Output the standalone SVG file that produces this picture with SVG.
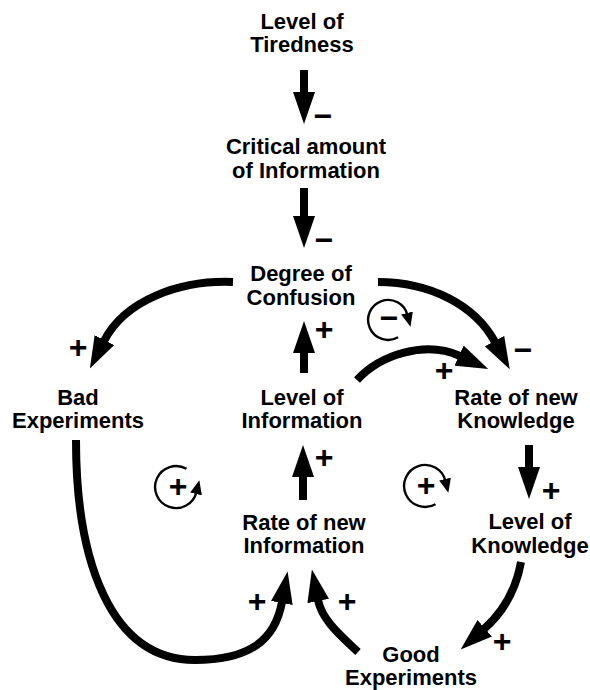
<svg xmlns="http://www.w3.org/2000/svg" width="590" height="690" viewBox="0 0 590 690">
<defs>
<style>
.node text{font-family:"Liberation Sans",Arial,sans-serif;font-weight:bold;font-size:22px;fill:#000;text-anchor:middle}
.conn{fill:none;stroke:#000;stroke-width:8;marker-end:url(#head)}
.sign{font-family:"Liberation Sans",Arial,sans-serif;font-weight:bold;font-size:32px;fill:#000;text-anchor:middle;dominant-baseline:central}
.loop{fill:none;stroke:#000;stroke-width:2.4;marker-end:url(#lhead)}
</style>
<marker id="head" markerUnits="userSpaceOnUse" viewBox="0 0 32 22" markerWidth="32" markerHeight="22" refX="1" refY="11" orient="auto">
<path d="M0,0 L32,11 L0,22 Z" fill="#000"/>
</marker>
<marker id="lhead" markerUnits="userSpaceOnUse" viewBox="0 0 14 12" markerWidth="14" markerHeight="12" refX="2" refY="6" orient="auto">
<path d="M0,0 L14,6 L0,12 Z" fill="#000"/>
</marker>
</defs>
<rect width="590" height="690" fill="#fff"/>

<g id="connectors">
<path class="conn" d="M304,70 V93"/>
<path class="conn" d="M304,188 V217"/>
<path class="conn" d="M233,282 C180,280 125,300 104,341"/>
<path class="conn" d="M378,282 C430,282 475,305 495,342"/>
<path class="conn" d="M304,373 V352"/>
<path class="conn" d="M357,380 C380,355 425,340 460,356"/>
<path class="conn" d="M303,500 V476"/>
<path class="conn" d="M529,445 V468"/>
<path class="conn" d="M521,562 C515,595 500,615 484,629"/>
<path class="conn" d="M358,652 C340,635 322,620 318,600"/>
<path class="conn" d="M76,440 C76,560 110,660 195,660 C250,660 275,640 282,602"/>
<text class="sign" x="323" y="116">−</text>
<text class="sign" x="324" y="240">−</text>
<text class="sign" x="78" y="347">+</text>
<text class="sign" x="523" y="350">−</text>
<text class="sign" x="324" y="329">+</text>
<text class="sign" x="444" y="370">+</text>
<text class="sign" x="324" y="457">+</text>
<text class="sign" x="551" y="490">+</text>
<text class="sign" x="502" y="641">+</text>
<text class="sign" x="347" y="601">+</text>
<text class="sign" x="257" y="601">+</text>
</g>

<g id="loops">
<g id="loop-balancing">
<path class="loop" d="M398,337.3 A20,20 0 1,1 407.5,315"/>
<text class="sign" x="389" y="318">−</text>
</g>
<g id="loop-reinforcing-left">
<path class="loop" d="M186.5,468.8 A21,21 0 1,0 196.5,492"/>
<text class="sign" x="178" y="486">+</text>
</g>
<g id="loop-reinforcing-right">
<path class="loop" d="M435.5,504.2 A21,21 0 1,1 445.5,481"/>
<text class="sign" x="426" y="485">+</text>
</g>
</g>

<g id="level-of-tiredness" class="node">
<text x="302" y="29">Level of<tspan x="302" y="52">Tiredness</tspan></text>
</g>
<g id="critical-amount-of-information" class="node">
<text x="306" y="154">Critical amount<tspan x="306" y="178">of Information</tspan></text>
</g>
<g id="degree-of-confusion" class="node">
<text x="301" y="281">Degree of<tspan x="301" y="305">Confusion</tspan></text>
</g>
<g id="bad-experiments" class="node">
<text x="78" y="405">Bad<tspan x="78" y="428">Experiments</tspan></text>
</g>
<g id="level-of-information" class="node">
<text x="302" y="405">Level of<tspan x="302" y="428">Information</tspan></text>
</g>
<g id="rate-of-new-knowledge" class="node">
<text x="516" y="405">Rate of new<tspan x="516" y="428">Knowledge</tspan></text>
</g>
<g id="rate-of-new-information" class="node">
<text x="304" y="530">Rate of new<tspan x="304" y="553">Information</tspan></text>
</g>
<g id="level-of-knowledge" class="node">
<text x="530" y="529">Level of<tspan x="530" y="553">Knowledge</tspan></text>
</g>
<g id="good-experiments" class="node">
<text x="411" y="662">Good<tspan x="411" y="685">Experiments</tspan></text>
</g>
</svg>
